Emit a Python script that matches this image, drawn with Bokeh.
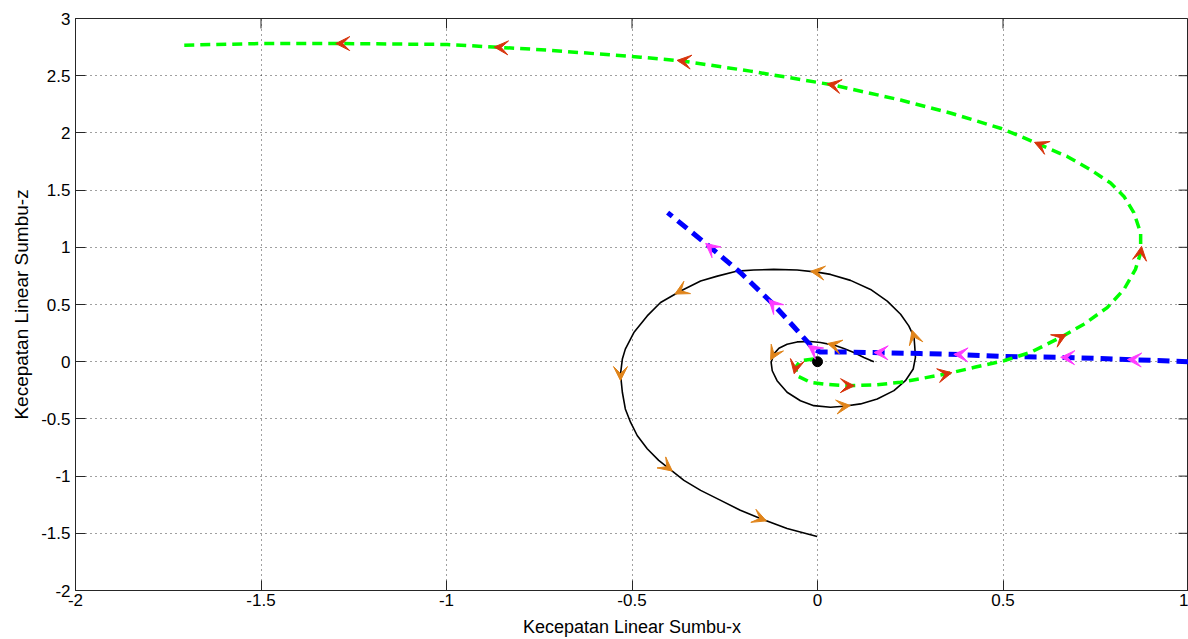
from bokeh.plotting import figure
from bokeh.models import Range1d, Arrow, VeeHead, ColumnDataSource, FixedTicker
from bokeh.embed import file_html
from bokeh.resources import INLINE

# ---- data ----
# black solid trajectory (ordered in direction of motion)
black_x = [0.152, 0.125, 0.098, 0.071, 0.044, 0.008, -0.019, -0.055, -0.082, -0.104,
           -0.118, -0.125, -0.122, -0.109, -0.082, -0.046, -0.010, 0.035, 0.071, 0.116,
           0.161, 0.206, 0.237, 0.258, 0.264, 0.262, 0.260, 0.246, 0.224, 0.188,
           0.143, 0.089, 0.035, -0.001, -0.055, -0.118, -0.172, -0.216, -0.270, -0.315,
           -0.369, -0.423, -0.459, -0.495, -0.518, -0.526, -0.531, -0.526, -0.518, -0.504,
           -0.486, -0.459, -0.428, -0.405, -0.360, -0.315, -0.261, -0.208, -0.154, -0.082,
           -0.001]
black_y = [0.000, 0.037, 0.081, 0.116, 0.145, 0.168, 0.177, 0.173, 0.153, 0.118,
           0.066, -0.006, -0.079, -0.166, -0.267, -0.341, -0.384, -0.398, -0.389, -0.369,
           -0.326, -0.253, -0.166, -0.064, 0.037, 0.139, 0.220, 0.313, 0.415, 0.530,
           0.632, 0.711, 0.763, 0.783, 0.801, 0.807, 0.801, 0.792, 0.748, 0.705,
           0.618, 0.517, 0.400, 0.255, 0.110, 0.023, -0.108, -0.267, -0.413, -0.529,
           -0.645, -0.761, -0.863, -0.921, -1.037, -1.125, -1.212, -1.299, -1.371, -1.458,
           -1.528]
black_arrows = [4, 10, 18, 26, 33, 40, 46, 53, 58]

# green dashed trajectory
green_x = [-0.010, -0.046, -0.059, -0.055, -0.019, 0.026, 0.082, 0.152, 0.224, 0.296,
           0.345, 0.426, 0.502, 0.574, 0.655, 0.718, 0.781, 0.826, 0.857, 0.871,
           0.871, 0.853, 0.826, 0.790, 0.736, 0.673, 0.601, 0.538, 0.493, 0.358,
           0.224, 0.043, -0.181, -0.361, -0.477, -0.724, -0.854, -0.998, -1.281, -1.501,
           -1.708]
green_y = [0.023, 0.008, -0.050, -0.123, -0.180, -0.199, -0.210, -0.204, -0.180, -0.137,
           -0.108, -0.047, 0.008, 0.081, 0.212, 0.328, 0.473, 0.632, 0.807, 0.952,
           1.126, 1.301, 1.445, 1.562, 1.678, 1.794, 1.895, 1.983, 2.041, 2.174,
           2.287, 2.418, 2.540, 2.627, 2.662, 2.723, 2.747, 2.773, 2.781, 2.781,
           2.767]
green_arrows = [2, 6, 10, 14, 19, 26, 31, 33, 36, 38]

# blue dashed trajectory
blue_x = [1.000, 0.853, 0.673, 0.493, 0.385, 0.278, 0.170, 0.089, 0.008, -0.011,
          -0.024, -0.065, -0.119, -0.208, -0.288, -0.404]
blue_y = [0.000, 0.017, 0.037, 0.046, 0.062, 0.071, 0.079, 0.084, 0.084, 0.110,
          0.162, 0.310, 0.502, 0.780, 0.998, 1.303]
blue_arrows = [1, 2, 4, 6, 9, 12, 14]

origin_x = [0.0]
origin_y = [0.0]

x_ticks = [-2, -1.5, -1, -0.5, 0, 0.5, 1]
x_tick_labels = ["-2", "-1.5", "-1", "-0.5", "0", "0.5", "1"]
y_ticks = [-2, -1.5, -1, -0.5, 0, 0.5, 1, 1.5, 2, 2.5, 3]
y_tick_labels = ["-2", "-1.5", "-1", "-0.5", "0", "0.5", "1", "1.5", "2", "2.5", "3"]

# ---- figure ----
X0, X1 = -2.0, 1.0
Y0, Y1 = -2.0, 3.0
W, H = 1188, 639
BL, BT, BR, BB = 75, 18, 0, 47

p = figure(width=W, height=H, x_range=Range1d(X0, X1), y_range=Range1d(Y0, Y1),
           output_backend="svg", toolbar_location=None,
           min_border_left=BL, min_border_top=BT, min_border_right=BR, min_border_bottom=BB,
           background_fill_color="white", border_fill_color="white",
           outline_line_color="#262626", outline_line_width=1)

FONT = "Liberation Sans"
for ax in (p.xaxis[0], p.yaxis[0]):
    ax.major_tick_in = 10
    ax.major_tick_out = 0
    ax.minor_tick_in = 0
    ax.minor_tick_out = 0
    ax.major_label_text_font = FONT
    ax.major_label_text_font_size = "17px"
    ax.major_label_text_color = "black"
    ax.axis_label_text_font = FONT
    ax.axis_label_text_font_size = "18px"
    ax.axis_label_text_font_style = "normal"
    ax.axis_label_text_color = "black"
    ax.axis_line_color = "#262626"
    ax.major_tick_line_color = "#262626"
p.yaxis[0].axis_label_text_font_size = "19px"
p.xaxis[0].ticker = FixedTicker(ticks=x_ticks)
p.yaxis[0].ticker = FixedTicker(ticks=y_ticks)
p.xaxis[0].major_label_overrides = {t: s for t, s in zip(x_ticks, x_tick_labels)}
p.yaxis[0].major_label_overrides = {t: s for t, s in zip(y_ticks, y_tick_labels)}
p.xaxis[0].axis_label = "Kecepatan Linear Sumbu-x"
p.yaxis[0].axis_label = "Kecepatan Linear Sumbu-z"
p.xaxis[0].major_label_standoff = 3
p.xaxis[0].axis_label_standoff = 8
p.yaxis[0].major_label_standoff = 5
p.yaxis[0].axis_label_standoff = 6

for g in (p.xgrid[0], p.ygrid[0]):
    g.grid_line_color = "#000000"
    g.grid_line_dash = "1 4"
    g.grid_line_width = 1
    g.grid_line_alpha = 0.75

frame_w = W - BL - BR
frame_h = H - BT - BB
sx = frame_w / (X1 - X0)
sy = frame_h / (Y1 - Y0)

# inward ticks on the top and right edges of the box
TICK = 10
p.segment(x0=x_ticks, y0=[Y1] * len(x_ticks), x1=x_ticks,
          y1=[Y1 - TICK / sy] * len(x_ticks), line_color="#262626", line_width=1)
p.segment(x0=[X1] * len(y_ticks), y0=y_ticks, x1=[X1 - TICK / sx] * len(y_ticks),
          y1=y_ticks, line_color="#262626", line_width=1)

# ---- curves ----
p.line(black_x, black_y, line_color="black", line_width=1.6, line_join="round")
p.line(blue_x, blue_y, line_color="#0000FF", line_width=5, line_dash="12 7")
p.line(green_x, green_y, line_color="#00FF00", line_width=3.5, line_dash="10 6",
       line_join="round")


# ---- arrow heads along trajectories ----
def add_heads(xs, ys, idx, color):
    x_start, y_start, x_end, y_end = [], [], [], []
    for i in idx:
        dx = (xs[i + 1] - xs[i - 1]) * sx
        dy = (ys[i + 1] - ys[i - 1]) * sy
        n = (dx * dx + dy * dy) ** 0.5
        ux, uy = dx / n, dy / n
        ahead = 6.5  # px, tip ahead of the point
        x_end.append(xs[i] + ux * ahead / sx)
        y_end.append(ys[i] + uy * ahead / sy)
        x_start.append(xs[i] - ux * 1.0 / sx)
        y_start.append(ys[i] - uy * 1.0 / sy)
    src = ColumnDataSource(dict(xs=x_start, ys=y_start, xe=x_end, ye=y_end))
    p.add_layout(Arrow(end=VeeHead(size=14, fill_color=color, line_color=color, line_width=1),
                       x_start="xs", y_start="ys", x_end="xe", y_end="ye",
                       source=src, line_alpha=0))


add_heads(black_x, black_y, black_arrows, "#E0841A")
add_heads(green_x, green_y, green_arrows, "#D8340C")
add_heads(blue_x, blue_y, blue_arrows, "#FF3CFF")

p.scatter(origin_x, origin_y, size=10, color="black")

open("out.html", "w").write(file_html(p, INLINE))
